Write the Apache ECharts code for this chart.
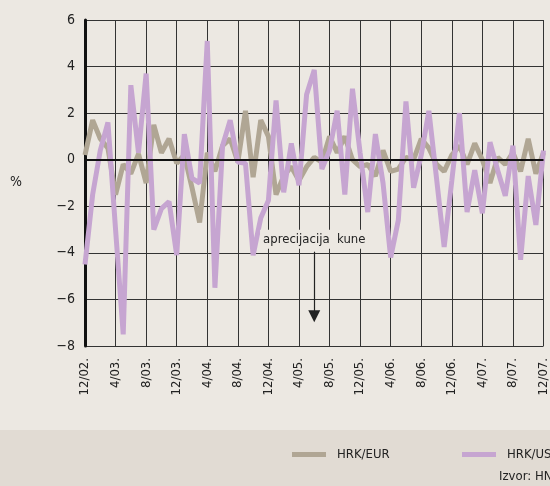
<!DOCTYPE html>
<html>
<head>
<meta charset="utf-8">
<script src="https://cdn.jsdelivr.net/npm/echarts@6/dist/echarts.min.js"></script>
<style>
  html, body { margin: 0; padding: 0; background: #ece8e2; }
  #main { width: 550px; height: 486px; }
</style>
</head>
<body>
<div id="main"></div>
<script>
// monthly, 12/2002 - 12/2007
const months = [
  "12/02.",
  "1/03.", "2/03.", "3/03.", "4/03.", "5/03.", "6/03.", "7/03.", "8/03.", "9/03.", "10/03.", "11/03.", "12/03.",
  "1/04.", "2/04.", "3/04.", "4/04.", "5/04.", "6/04.", "7/04.", "8/04.", "9/04.", "10/04.", "11/04.", "12/04.",
  "1/05.", "2/05.", "3/05.", "4/05.", "5/05.", "6/05.", "7/05.", "8/05.", "9/05.", "10/05.", "11/05.", "12/05.",
  "1/06.", "2/06.", "3/06.", "4/06.", "5/06.", "6/06.", "7/06.", "8/06.", "9/06.", "10/06.", "11/06.", "12/06.",
  "1/07.", "2/07.", "3/07.", "4/07.", "5/07.", "6/07.", "7/07.", "8/07.", "9/07.", "10/07.", "11/07.", "12/07."
]

const hrkEur = [
  0.2,
  1.7, 0.9, 0.5, -1.5, -0.2, -0.6, 0.25, -1.0, 1.5, 0.3, 0.9, -0.15,
  0.2, -1.2, -2.7, 0.3, -0.5, 0.6, 0.9, -0.1, 2.1, -0.75, 1.7, 1.0,
  -1.5, -0.7, -0.3, -0.9, -0.3, 0.1, -0.1, 1.0, 0.3, 1.0, 0.0, -0.3,
  -0.2, -0.7, 0.4, -0.5, -0.4, 0.1, 0.0, 0.9, 0.5, -0.2, -0.5, 0.2,
  0.6, -0.2, 0.7, 0.0, -1.0, 0.1, -0.2, 0.3, -0.5, 0.9, -0.6, 0.3
]

const hrkUsd = [
  -4.5,
  -1.5, 0.4, 1.6, -3.0, -7.5, 3.2, 0.3, 3.7, -3.0, -2.1, -1.8, -4.1,
  1.1, -0.8, -1.0, 5.1, -5.5, 0.6, 1.7, -0.1, -0.15, -4.1, -2.5, -1.75,
  2.55, -1.4, 0.7, -1.1, 2.8, 3.85, -0.4, 0.4, 2.1, -1.5, 3.05, 0.3,
  -2.25, 1.1, -1.0, -4.2, -2.6, 2.5, -1.2, 0.2, 2.1, -0.8, -3.75, -0.9,
  2.0, -2.25, -0.45, -2.3, 0.75, -0.45, -1.55, 0.6, -4.3, -0.7, -2.8, 0.4
]

const seriesNames = ["HRK/EUR", "HRK/USD"]
const arrowAt = "6/05."

const font = "'Liberation Sans Narrow', 'DejaVu Sans Condensed', 'Roboto Condensed', 'Liberation Sans', sans-serif"

const chart = echarts.init(document.getElementById("main"))

const legendBase = {
  top: 443,
  icon: "rect",
  itemWidth: 34,
  itemHeight: 5,
  textStyle: { fontSize: 13, color: "#222", fontFamily: font, padding: [0, 0, 0, 6] }
}

const option = {
  backgroundColor: "#ece8e2",
  animation: false,
  textStyle: { fontFamily: font, color: "#222" },
  grid: { left: 85, right: 4, top: 20, bottom: 140 },
  xAxis: {
    type: "category",
    data: months,
    boundaryGap: false,
    axisLine: { lineStyle: { color: "#111", width: 2 } },
    axisTick: { show: false },
    axisLabel: {
      interval: 3,
      rotate: 90,
      fontSize: 13,
      color: "#222",
      fontFamily: font,
      margin: 12
    },
    splitLine: { show: true, interval: 3, lineStyle: { color: "#333", width: 1 } }
  },
  yAxis: {
    type: "value",
    min: -8,
    max: 6,
    interval: 2,
    axisLine: { show: true, lineStyle: { color: "#111", width: 3 } },
    axisTick: { show: false },
    axisLabel: {
      fontSize: 14,
      color: "#222",
      fontFamily: font,
      margin: 10,
      formatter: v => String(v).replace("-", "\u2212")
    },
    splitLine: { lineStyle: { color: "#333", width: 1 } }
  },
  legend: [
    Object.assign({}, legendBase, { left: 287, data: [seriesNames[0]] }),
    Object.assign({}, legendBase, { left: 457, data: [seriesNames[1]] })
  ],
  graphic: [
    {
      type: "rect",
      z: -10,
      shape: { x: 0, y: 430, width: 550, height: 56 },
      style: { fill: "#e1dbd3" }
    },
    {
      type: "text",
      left: 10,
      top: 175,
      style: { text: "%", font: "14px " + font, fill: "#222" }
    },
    {
      type: "text",
      left: 499,
      top: 470,
      style: { text: "Izvor: HNB", font: "13px " + font, fill: "#222" }
    }
  ],
  series: [
    {
      name: seriesNames[0],
      type: "line",
      data: hrkEur,
      symbol: "none",
      color: "#b0a694",
      lineStyle: { width: 5, color: "#b0a694", join: "bevel" },
      markLine: {
        silent: true,
        symbol: "none",
        label: { show: false },
        lineStyle: { color: "#111", width: 2, type: "solid" },
        data: [{ yAxis: 0 }],
        z: 10
      }
    },
    {
      name: seriesNames[1],
      type: "line",
      data: hrkUsd,
      symbol: "none",
      color: "#c6a5d1",
      lineStyle: { width: 5, color: "#c6a5d1", join: "bevel" },
      markLine: {
        silent: true,
        symbol: ["none", "triangle"],
        symbolSize: 12,
        lineStyle: { color: "#222", width: 1.2, type: "solid" },
        label: {
          show: true,
          position: "start",
          distance: 3,
          formatter: "aprecijacija  kune",
          fontSize: 13,
          fontFamily: font,
          color: "#222",
          backgroundColor: "#ece8e2",
          padding: [3, 3, 3, 3]
        },
        data: [[
          { coord: [arrowAt, -3.95] },
          { coord: [arrowAt, -6.72] }
        ]]
      }
    }
  ]
}

option && chart.setOption(option)
</script>
</body>
</html>
